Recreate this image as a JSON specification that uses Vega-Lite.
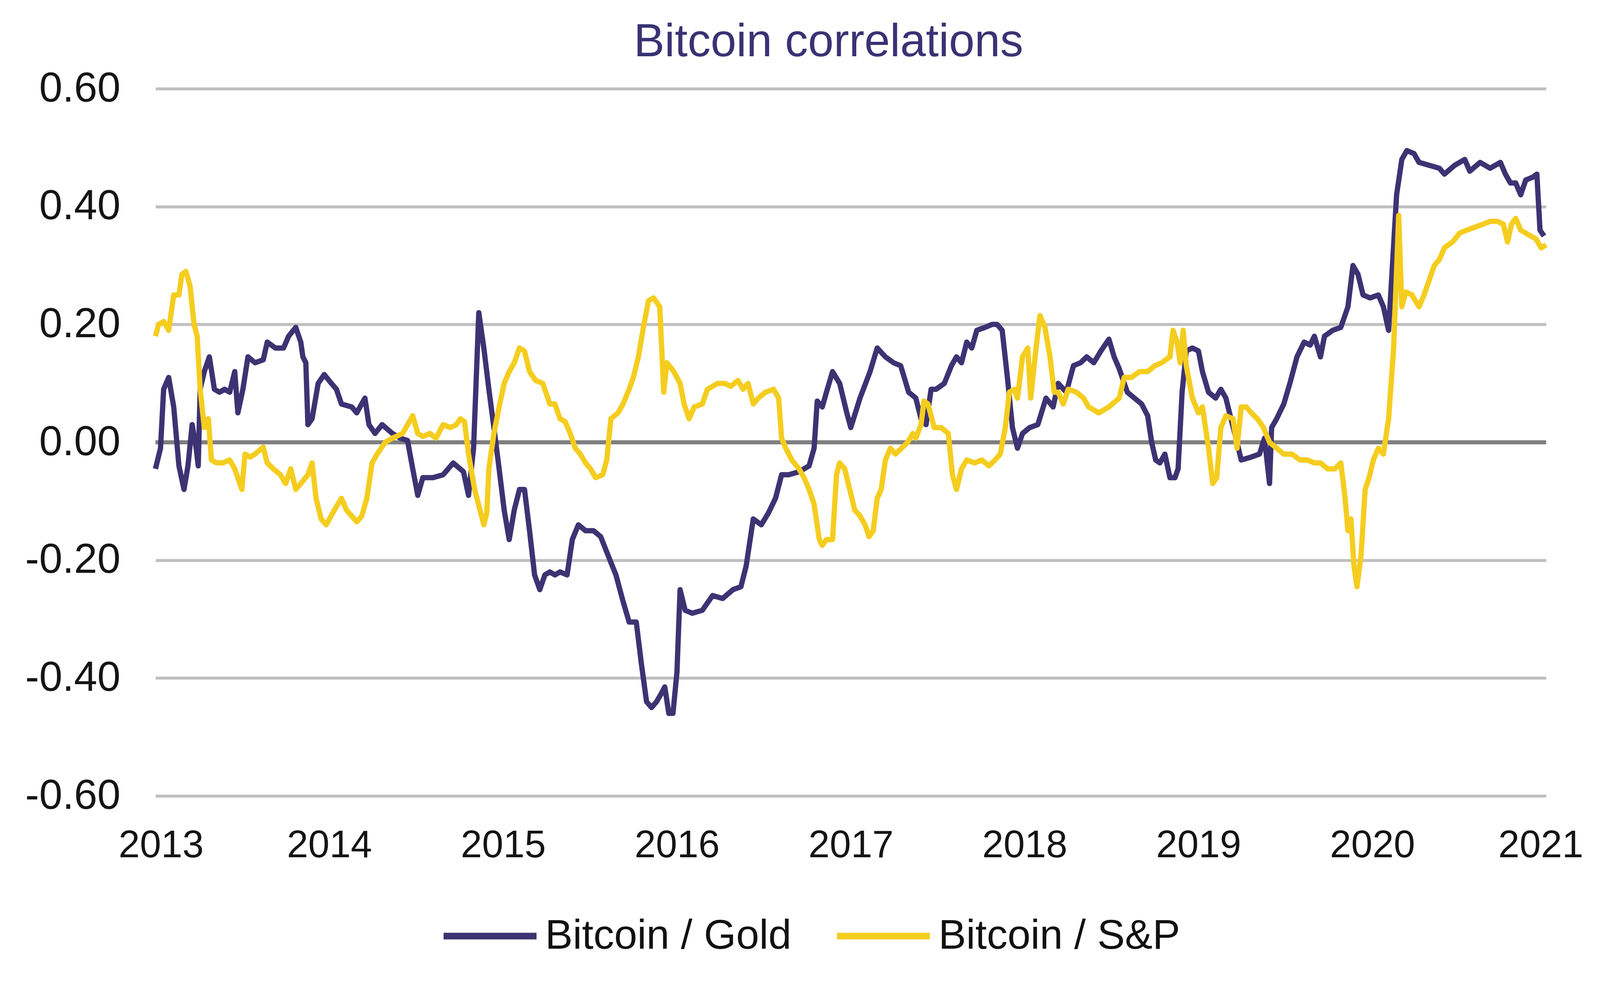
{
  "$schema": "https://vega.github.io/schema/vega-lite/v6.json",
  "autosize": {"type": "none"},
  "width": 3560,
  "height": 1810,
  "padding": {"left": 398, "top": 227, "right": 266, "bottom": 530},
  "background": "white",
  "title": {
    "text": "Bitcoin correlations",
    "font": "Liberation Sans",
    "fontSize": 118,
    "fontWeight": "normal",
    "color": "#3a3274",
    "anchor": "middle",
    "frame": "group",
    "baseline": "alphabetic",
    "dx": -57,
    "offset": -89
  },
  "config": {
    "view": {"stroke": null},
    "axis": {
      "labelFont": "Liberation Sans",
      "labelColor": "#141414",
      "labelLimit": 0,
      "domain": false,
      "ticks": false
    },
    "axisX": {"grid": false, "labelFontSize": 98, "labelPadding": 79, "labelFlush": true, "labelFlushOffset": 95, "labelOverlap": false},
    "axisY": {"grid": true, "gridColor": "#bfbfbf", "gridWidth": 7.7, "labelFontSize": 107, "labelPadding": 90}
  },
  "datasets": {
    "gold": [
      {"year": 2013.000, "corr": -0.045}, {"year": 2013.029, "corr": -0.01}, {"year": 2013.047, "corr": 0.09},
      {"year": 2013.076, "corr": 0.11}, {"year": 2013.105, "corr": 0.06}, {"year": 2013.135, "corr": -0.04},
      {"year": 2013.164, "corr": -0.08}, {"year": 2013.187, "corr": -0.04}, {"year": 2013.211, "corr": 0.03},
      {"year": 2013.234, "corr": -0.01}, {"year": 2013.246, "corr": -0.04}, {"year": 2013.257, "corr": 0.09},
      {"year": 2013.281, "corr": 0.12}, {"year": 2013.310, "corr": 0.145}, {"year": 2013.339, "corr": 0.09},
      {"year": 2013.368, "corr": 0.085}, {"year": 2013.398, "corr": 0.09}, {"year": 2013.427, "corr": 0.085},
      {"year": 2013.456, "corr": 0.12}, {"year": 2013.474, "corr": 0.05}, {"year": 2013.503, "corr": 0.09},
      {"year": 2013.532, "corr": 0.145}, {"year": 2013.573, "corr": 0.135}, {"year": 2013.620, "corr": 0.14},
      {"year": 2013.643, "corr": 0.17}, {"year": 2013.690, "corr": 0.16}, {"year": 2013.737, "corr": 0.16},
      {"year": 2013.766, "corr": 0.18}, {"year": 2013.807, "corr": 0.195}, {"year": 2013.836, "corr": 0.17},
      {"year": 2013.848, "corr": 0.145}, {"year": 2013.865, "corr": 0.135}, {"year": 2013.877, "corr": 0.03},
      {"year": 2013.901, "corr": 0.04}, {"year": 2013.936, "corr": 0.10}, {"year": 2013.971, "corr": 0.115},
      {"year": 2014.012, "corr": 0.10}, {"year": 2014.041, "corr": 0.09}, {"year": 2014.070, "corr": 0.065},
      {"year": 2014.129, "corr": 0.06}, {"year": 2014.158, "corr": 0.05}, {"year": 2014.205, "corr": 0.075},
      {"year": 2014.228, "corr": 0.03}, {"year": 2014.263, "corr": 0.015}, {"year": 2014.304, "corr": 0.03},
      {"year": 2014.363, "corr": 0.015}, {"year": 2014.409, "corr": 0.007}, {"year": 2014.450, "corr": 0.003},
      {"year": 2014.480, "corr": -0.045}, {"year": 2014.509, "corr": -0.09}, {"year": 2014.538, "corr": -0.06},
      {"year": 2014.596, "corr": -0.06}, {"year": 2014.655, "corr": -0.055}, {"year": 2014.713, "corr": -0.035},
      {"year": 2014.772, "corr": -0.05}, {"year": 2014.801, "corr": -0.09}, {"year": 2014.830, "corr": -0.01},
      {"year": 2014.860, "corr": 0.22}, {"year": 2014.889, "corr": 0.16}, {"year": 2014.918, "corr": 0.09},
      {"year": 2014.947, "corr": 0.025}, {"year": 2014.977, "corr": -0.045}, {"year": 2015.006, "corr": -0.115},
      {"year": 2015.035, "corr": -0.165}, {"year": 2015.064, "corr": -0.115}, {"year": 2015.094, "corr": -0.08},
      {"year": 2015.123, "corr": -0.08}, {"year": 2015.152, "corr": -0.15}, {"year": 2015.181, "corr": -0.225},
      {"year": 2015.211, "corr": -0.25}, {"year": 2015.240, "corr": -0.225}, {"year": 2015.269, "corr": -0.22},
      {"year": 2015.298, "corr": -0.225}, {"year": 2015.327, "corr": -0.22}, {"year": 2015.368, "corr": -0.225},
      {"year": 2015.398, "corr": -0.165}, {"year": 2015.433, "corr": -0.14}, {"year": 2015.474, "corr": -0.15},
      {"year": 2015.520, "corr": -0.15}, {"year": 2015.561, "corr": -0.16}, {"year": 2015.608, "corr": -0.195},
      {"year": 2015.649, "corr": -0.225}, {"year": 2015.690, "corr": -0.27}, {"year": 2015.725, "corr": -0.305},
      {"year": 2015.766, "corr": -0.305}, {"year": 2015.795, "corr": -0.375}, {"year": 2015.825, "corr": -0.44},
      {"year": 2015.854, "corr": -0.45}, {"year": 2015.883, "corr": -0.44}, {"year": 2015.912, "corr": -0.425},
      {"year": 2015.930, "corr": -0.415}, {"year": 2015.953, "corr": -0.46}, {"year": 2015.977, "corr": -0.46},
      {"year": 2016.000, "corr": -0.39}, {"year": 2016.018, "corr": -0.25}, {"year": 2016.047, "corr": -0.285},
      {"year": 2016.088, "corr": -0.29}, {"year": 2016.146, "corr": -0.285}, {"year": 2016.205, "corr": -0.26},
      {"year": 2016.263, "corr": -0.265}, {"year": 2016.322, "corr": -0.25}, {"year": 2016.368, "corr": -0.245},
      {"year": 2016.398, "corr": -0.21}, {"year": 2016.439, "corr": -0.13}, {"year": 2016.485, "corr": -0.14},
      {"year": 2016.526, "corr": -0.12}, {"year": 2016.567, "corr": -0.095}, {"year": 2016.602, "corr": -0.055},
      {"year": 2016.643, "corr": -0.055}, {"year": 2016.702, "corr": -0.05}, {"year": 2016.760, "corr": -0.04},
      {"year": 2016.789, "corr": -0.01}, {"year": 2016.807, "corr": 0.07}, {"year": 2016.836, "corr": 0.06},
      {"year": 2016.860, "corr": 0.085}, {"year": 2016.895, "corr": 0.12}, {"year": 2016.936, "corr": 0.10},
      {"year": 2016.977, "corr": 0.05}, {"year": 2017.000, "corr": 0.025}, {"year": 2017.053, "corr": 0.075},
      {"year": 2017.111, "corr": 0.12}, {"year": 2017.152, "corr": 0.16}, {"year": 2017.199, "corr": 0.145},
      {"year": 2017.246, "corr": 0.135}, {"year": 2017.287, "corr": 0.13}, {"year": 2017.333, "corr": 0.085},
      {"year": 2017.374, "corr": 0.075}, {"year": 2017.404, "corr": 0.04}, {"year": 2017.433, "corr": 0.03},
      {"year": 2017.462, "corr": 0.09}, {"year": 2017.491, "corr": 0.09}, {"year": 2017.538, "corr": 0.10},
      {"year": 2017.579, "corr": 0.13}, {"year": 2017.608, "corr": 0.145}, {"year": 2017.637, "corr": 0.135},
      {"year": 2017.667, "corr": 0.17}, {"year": 2017.696, "corr": 0.16}, {"year": 2017.725, "corr": 0.19},
      {"year": 2017.772, "corr": 0.195}, {"year": 2017.813, "corr": 0.20}, {"year": 2017.842, "corr": 0.20},
      {"year": 2017.871, "corr": 0.19}, {"year": 2017.901, "corr": 0.11}, {"year": 2017.930, "corr": 0.025},
      {"year": 2017.959, "corr": -0.01}, {"year": 2017.988, "corr": 0.015}, {"year": 2018.029, "corr": 0.025},
      {"year": 2018.076, "corr": 0.03}, {"year": 2018.123, "corr": 0.075}, {"year": 2018.164, "corr": 0.06},
      {"year": 2018.193, "corr": 0.10}, {"year": 2018.240, "corr": 0.085}, {"year": 2018.281, "corr": 0.13},
      {"year": 2018.322, "corr": 0.135}, {"year": 2018.357, "corr": 0.145}, {"year": 2018.398, "corr": 0.135},
      {"year": 2018.439, "corr": 0.155}, {"year": 2018.485, "corr": 0.175}, {"year": 2018.515, "corr": 0.145},
      {"year": 2018.544, "corr": 0.125}, {"year": 2018.591, "corr": 0.085}, {"year": 2018.632, "corr": 0.075},
      {"year": 2018.673, "corr": 0.065}, {"year": 2018.708, "corr": 0.045}, {"year": 2018.731, "corr": 0.0},
      {"year": 2018.754, "corr": -0.03}, {"year": 2018.778, "corr": -0.035}, {"year": 2018.807, "corr": -0.02},
      {"year": 2018.836, "corr": -0.06}, {"year": 2018.865, "corr": -0.06}, {"year": 2018.883, "corr": -0.045},
      {"year": 2018.906, "corr": 0.085}, {"year": 2018.930, "corr": 0.155}, {"year": 2018.965, "corr": 0.16},
      {"year": 2019.000, "corr": 0.155}, {"year": 2019.023, "corr": 0.12}, {"year": 2019.058, "corr": 0.085},
      {"year": 2019.099, "corr": 0.075}, {"year": 2019.129, "corr": 0.09}, {"year": 2019.158, "corr": 0.075},
      {"year": 2019.187, "corr": 0.04}, {"year": 2019.216, "corr": 0.007}, {"year": 2019.246, "corr": -0.03},
      {"year": 2019.304, "corr": -0.025}, {"year": 2019.351, "corr": -0.02}, {"year": 2019.380, "corr": 0.007},
      {"year": 2019.409, "corr": -0.07}, {"year": 2019.421, "corr": 0.025}, {"year": 2019.450, "corr": 0.04},
      {"year": 2019.491, "corr": 0.065}, {"year": 2019.526, "corr": 0.10}, {"year": 2019.567, "corr": 0.145},
      {"year": 2019.608, "corr": 0.17}, {"year": 2019.643, "corr": 0.165}, {"year": 2019.667, "corr": 0.18},
      {"year": 2019.702, "corr": 0.145}, {"year": 2019.725, "corr": 0.18}, {"year": 2019.772, "corr": 0.19},
      {"year": 2019.819, "corr": 0.195}, {"year": 2019.860, "corr": 0.23}, {"year": 2019.889, "corr": 0.30},
      {"year": 2019.918, "corr": 0.285}, {"year": 2019.947, "corr": 0.25}, {"year": 2019.988, "corr": 0.245},
      {"year": 2020.035, "corr": 0.25}, {"year": 2020.064, "corr": 0.23}, {"year": 2020.094, "corr": 0.19},
      {"year": 2020.140, "corr": 0.42}, {"year": 2020.170, "corr": 0.48}, {"year": 2020.199, "corr": 0.495},
      {"year": 2020.240, "corr": 0.49}, {"year": 2020.269, "corr": 0.475}, {"year": 2020.327, "corr": 0.47},
      {"year": 2020.386, "corr": 0.465}, {"year": 2020.415, "corr": 0.455}, {"year": 2020.474, "corr": 0.47},
      {"year": 2020.532, "corr": 0.48}, {"year": 2020.561, "corr": 0.46}, {"year": 2020.620, "corr": 0.475},
      {"year": 2020.678, "corr": 0.465}, {"year": 2020.737, "corr": 0.475}, {"year": 2020.766, "corr": 0.455},
      {"year": 2020.795, "corr": 0.44}, {"year": 2020.825, "corr": 0.44}, {"year": 2020.854, "corr": 0.42},
      {"year": 2020.883, "corr": 0.445}, {"year": 2020.924, "corr": 0.45}, {"year": 2020.947, "corr": 0.455},
      {"year": 2020.965, "corr": 0.36}, {"year": 2020.988, "corr": 0.35}
    ],
    "sp": [
      {"year": 2013.000, "corr": 0.18}, {"year": 2013.018, "corr": 0.20}, {"year": 2013.047, "corr": 0.205},
      {"year": 2013.076, "corr": 0.19}, {"year": 2013.105, "corr": 0.25}, {"year": 2013.135, "corr": 0.25},
      {"year": 2013.152, "corr": 0.285}, {"year": 2013.175, "corr": 0.29}, {"year": 2013.199, "corr": 0.265},
      {"year": 2013.222, "corr": 0.20}, {"year": 2013.240, "corr": 0.18}, {"year": 2013.257, "corr": 0.09},
      {"year": 2013.281, "corr": 0.025}, {"year": 2013.304, "corr": 0.04}, {"year": 2013.322, "corr": -0.03},
      {"year": 2013.351, "corr": -0.035}, {"year": 2013.386, "corr": -0.035}, {"year": 2013.427, "corr": -0.03},
      {"year": 2013.456, "corr": -0.045}, {"year": 2013.497, "corr": -0.08}, {"year": 2013.515, "corr": -0.02},
      {"year": 2013.544, "corr": -0.025}, {"year": 2013.573, "corr": -0.02}, {"year": 2013.620, "corr": -0.008},
      {"year": 2013.643, "corr": -0.035}, {"year": 2013.678, "corr": -0.045}, {"year": 2013.719, "corr": -0.055},
      {"year": 2013.749, "corr": -0.07}, {"year": 2013.778, "corr": -0.045}, {"year": 2013.807, "corr": -0.08},
      {"year": 2013.836, "corr": -0.07}, {"year": 2013.877, "corr": -0.055}, {"year": 2013.901, "corr": -0.035},
      {"year": 2013.924, "corr": -0.095}, {"year": 2013.953, "corr": -0.13}, {"year": 2013.982, "corr": -0.14},
      {"year": 2014.029, "corr": -0.115}, {"year": 2014.070, "corr": -0.095}, {"year": 2014.099, "corr": -0.115},
      {"year": 2014.129, "corr": -0.125}, {"year": 2014.158, "corr": -0.135}, {"year": 2014.187, "corr": -0.125},
      {"year": 2014.216, "corr": -0.095}, {"year": 2014.246, "corr": -0.035}, {"year": 2014.275, "corr": -0.02},
      {"year": 2014.322, "corr": 0.0}, {"year": 2014.363, "corr": 0.007}, {"year": 2014.421, "corr": 0.015},
      {"year": 2014.480, "corr": 0.045}, {"year": 2014.509, "corr": 0.015}, {"year": 2014.538, "corr": 0.01},
      {"year": 2014.579, "corr": 0.015}, {"year": 2014.614, "corr": 0.007}, {"year": 2014.655, "corr": 0.03},
      {"year": 2014.696, "corr": 0.025}, {"year": 2014.731, "corr": 0.03}, {"year": 2014.754, "corr": 0.04},
      {"year": 2014.778, "corr": 0.035}, {"year": 2014.801, "corr": -0.02}, {"year": 2014.836, "corr": -0.08},
      {"year": 2014.889, "corr": -0.14}, {"year": 2014.906, "corr": -0.12}, {"year": 2014.918, "corr": -0.045},
      {"year": 2014.947, "corr": 0.015}, {"year": 2014.977, "corr": 0.06}, {"year": 2015.006, "corr": 0.10},
      {"year": 2015.035, "corr": 0.12}, {"year": 2015.064, "corr": 0.135}, {"year": 2015.094, "corr": 0.16},
      {"year": 2015.123, "corr": 0.155}, {"year": 2015.152, "corr": 0.12}, {"year": 2015.187, "corr": 0.105},
      {"year": 2015.228, "corr": 0.10}, {"year": 2015.269, "corr": 0.065}, {"year": 2015.298, "corr": 0.065},
      {"year": 2015.327, "corr": 0.04}, {"year": 2015.357, "corr": 0.035}, {"year": 2015.386, "corr": 0.015},
      {"year": 2015.415, "corr": -0.01}, {"year": 2015.444, "corr": -0.02}, {"year": 2015.474, "corr": -0.035},
      {"year": 2015.503, "corr": -0.045}, {"year": 2015.532, "corr": -0.06}, {"year": 2015.573, "corr": -0.055},
      {"year": 2015.596, "corr": -0.03}, {"year": 2015.620, "corr": 0.04}, {"year": 2015.661, "corr": 0.05},
      {"year": 2015.690, "corr": 0.065}, {"year": 2015.725, "corr": 0.09}, {"year": 2015.749, "corr": 0.11},
      {"year": 2015.778, "corr": 0.145}, {"year": 2015.807, "corr": 0.195}, {"year": 2015.836, "corr": 0.24},
      {"year": 2015.865, "corr": 0.245}, {"year": 2015.901, "corr": 0.23}, {"year": 2015.924, "corr": 0.085},
      {"year": 2015.942, "corr": 0.135}, {"year": 2015.982, "corr": 0.12}, {"year": 2016.018, "corr": 0.10},
      {"year": 2016.041, "corr": 0.065}, {"year": 2016.070, "corr": 0.04}, {"year": 2016.099, "corr": 0.06},
      {"year": 2016.146, "corr": 0.065}, {"year": 2016.175, "corr": 0.09}, {"year": 2016.205, "corr": 0.095},
      {"year": 2016.234, "corr": 0.10}, {"year": 2016.275, "corr": 0.10}, {"year": 2016.310, "corr": 0.095},
      {"year": 2016.351, "corr": 0.105}, {"year": 2016.380, "corr": 0.09}, {"year": 2016.409, "corr": 0.10},
      {"year": 2016.439, "corr": 0.065}, {"year": 2016.468, "corr": 0.075}, {"year": 2016.509, "corr": 0.085},
      {"year": 2016.556, "corr": 0.09}, {"year": 2016.585, "corr": 0.075}, {"year": 2016.602, "corr": 0.007},
      {"year": 2016.626, "corr": -0.01}, {"year": 2016.661, "corr": -0.03}, {"year": 2016.702, "corr": -0.045},
      {"year": 2016.731, "corr": -0.06}, {"year": 2016.760, "corr": -0.08}, {"year": 2016.789, "corr": -0.105},
      {"year": 2016.819, "corr": -0.165}, {"year": 2016.836, "corr": -0.175}, {"year": 2016.860, "corr": -0.165},
      {"year": 2016.895, "corr": -0.165}, {"year": 2016.918, "corr": -0.055}, {"year": 2016.936, "corr": -0.035},
      {"year": 2016.965, "corr": -0.045}, {"year": 2016.994, "corr": -0.08}, {"year": 2017.023, "corr": -0.115},
      {"year": 2017.053, "corr": -0.125}, {"year": 2017.082, "corr": -0.14}, {"year": 2017.105, "corr": -0.16},
      {"year": 2017.129, "corr": -0.15}, {"year": 2017.152, "corr": -0.095}, {"year": 2017.175, "corr": -0.08},
      {"year": 2017.199, "corr": -0.03}, {"year": 2017.228, "corr": -0.01}, {"year": 2017.257, "corr": -0.02},
      {"year": 2017.292, "corr": -0.01}, {"year": 2017.327, "corr": 0.0}, {"year": 2017.357, "corr": 0.015},
      {"year": 2017.374, "corr": 0.007}, {"year": 2017.404, "corr": 0.03}, {"year": 2017.421, "corr": 0.07},
      {"year": 2017.444, "corr": 0.065}, {"year": 2017.480, "corr": 0.025}, {"year": 2017.520, "corr": 0.025},
      {"year": 2017.561, "corr": 0.015}, {"year": 2017.585, "corr": -0.055}, {"year": 2017.608, "corr": -0.08},
      {"year": 2017.637, "corr": -0.045}, {"year": 2017.667, "corr": -0.03}, {"year": 2017.713, "corr": -0.035},
      {"year": 2017.754, "corr": -0.03}, {"year": 2017.795, "corr": -0.04}, {"year": 2017.830, "corr": -0.03},
      {"year": 2017.860, "corr": -0.02}, {"year": 2017.889, "corr": 0.025}, {"year": 2017.912, "corr": 0.085},
      {"year": 2017.942, "corr": 0.09}, {"year": 2017.959, "corr": 0.075}, {"year": 2017.988, "corr": 0.145},
      {"year": 2018.018, "corr": 0.16}, {"year": 2018.035, "corr": 0.075}, {"year": 2018.064, "corr": 0.155},
      {"year": 2018.088, "corr": 0.215}, {"year": 2018.117, "corr": 0.195}, {"year": 2018.146, "corr": 0.145},
      {"year": 2018.170, "corr": 0.085}, {"year": 2018.193, "corr": 0.085}, {"year": 2018.222, "corr": 0.065},
      {"year": 2018.251, "corr": 0.09}, {"year": 2018.298, "corr": 0.085}, {"year": 2018.339, "corr": 0.075},
      {"year": 2018.368, "corr": 0.06}, {"year": 2018.427, "corr": 0.05}, {"year": 2018.485, "corr": 0.06},
      {"year": 2018.544, "corr": 0.075}, {"year": 2018.573, "corr": 0.11}, {"year": 2018.614, "corr": 0.11},
      {"year": 2018.661, "corr": 0.12}, {"year": 2018.708, "corr": 0.12}, {"year": 2018.749, "corr": 0.13},
      {"year": 2018.789, "corr": 0.135}, {"year": 2018.836, "corr": 0.145}, {"year": 2018.854, "corr": 0.19},
      {"year": 2018.877, "corr": 0.17}, {"year": 2018.895, "corr": 0.135}, {"year": 2018.912, "corr": 0.19},
      {"year": 2018.930, "corr": 0.13}, {"year": 2018.965, "corr": 0.075}, {"year": 2019.000, "corr": 0.05},
      {"year": 2019.023, "corr": 0.06}, {"year": 2019.058, "corr": -0.01}, {"year": 2019.082, "corr": -0.07},
      {"year": 2019.105, "corr": -0.06}, {"year": 2019.129, "corr": 0.025}, {"year": 2019.158, "corr": 0.045},
      {"year": 2019.199, "corr": 0.04}, {"year": 2019.222, "corr": -0.01}, {"year": 2019.246, "corr": 0.06},
      {"year": 2019.275, "corr": 0.06}, {"year": 2019.304, "corr": 0.05}, {"year": 2019.339, "corr": 0.04},
      {"year": 2019.374, "corr": 0.025}, {"year": 2019.409, "corr": 0.0}, {"year": 2019.450, "corr": -0.01},
      {"year": 2019.491, "corr": -0.02}, {"year": 2019.538, "corr": -0.02}, {"year": 2019.585, "corr": -0.03},
      {"year": 2019.626, "corr": -0.03}, {"year": 2019.667, "corr": -0.035}, {"year": 2019.702, "corr": -0.035},
      {"year": 2019.743, "corr": -0.045}, {"year": 2019.784, "corr": -0.045}, {"year": 2019.819, "corr": -0.035},
      {"year": 2019.842, "corr": -0.09}, {"year": 2019.860, "corr": -0.15}, {"year": 2019.877, "corr": -0.13},
      {"year": 2019.895, "corr": -0.21}, {"year": 2019.912, "corr": -0.245}, {"year": 2019.936, "corr": -0.19},
      {"year": 2019.959, "corr": -0.08}, {"year": 2019.982, "corr": -0.06}, {"year": 2020.006, "corr": -0.03},
      {"year": 2020.035, "corr": -0.01}, {"year": 2020.064, "corr": -0.02}, {"year": 2020.094, "corr": 0.04},
      {"year": 2020.123, "corr": 0.16}, {"year": 2020.152, "corr": 0.385}, {"year": 2020.170, "corr": 0.23},
      {"year": 2020.193, "corr": 0.255}, {"year": 2020.228, "corr": 0.25}, {"year": 2020.269, "corr": 0.23},
      {"year": 2020.298, "corr": 0.25}, {"year": 2020.327, "corr": 0.275}, {"year": 2020.357, "corr": 0.30},
      {"year": 2020.386, "corr": 0.31}, {"year": 2020.415, "corr": 0.33}, {"year": 2020.462, "corr": 0.34},
      {"year": 2020.503, "corr": 0.355}, {"year": 2020.544, "corr": 0.36}, {"year": 2020.591, "corr": 0.365},
      {"year": 2020.637, "corr": 0.37}, {"year": 2020.678, "corr": 0.375}, {"year": 2020.719, "corr": 0.375},
      {"year": 2020.754, "corr": 0.37}, {"year": 2020.778, "corr": 0.34}, {"year": 2020.801, "corr": 0.37},
      {"year": 2020.825, "corr": 0.38}, {"year": 2020.854, "corr": 0.36}, {"year": 2020.883, "corr": 0.355},
      {"year": 2020.912, "corr": 0.35}, {"year": 2020.942, "corr": 0.345}, {"year": 2020.971, "corr": 0.33},
      {"year": 2021.000, "corr": 0.335}
    ]
  },
  "layer": [
    {
      "data": {"values": [{"corr": 0}]},
      "mark": {"type": "rule", "color": "#7f7f7f", "strokeWidth": 10.6},
      "encoding": {
        "y": {"field": "corr", "type": "quantitative"}
      }
    },
    {
      "data": {"name": "gold"},
      "mark": {"type": "line", "strokeWidth": 13.5, "strokeJoin": "round"},
      "encoding": {
        "x": {
          "field": "year",
          "type": "quantitative",
          "title": null,
          "scale": {"domain": [2013, 2021], "nice": false, "zero": false},
          "axis": {
            "values": [2013, 2014, 2015, 2016, 2017, 2018, 2019, 2020, 2021],
            "format": "d"
          }
        },
        "y": {
          "field": "corr",
          "type": "quantitative",
          "title": null,
          "scale": {"domain": [-0.6, 0.6], "nice": false},
          "axis": {
            "values": [-0.6, -0.4, -0.2, 0, 0.2, 0.4, 0.6],
            "labelExpr": "replace(format(datum.value, '.2f'), '\u2212', '-')"
          }
        },
        "color": {
          "datum": "Bitcoin / Gold",
          "type": "nominal",
          "scale": {
            "domain": ["Bitcoin / Gold", "Bitcoin / S&P"],
            "range": ["#3d3373", "#f5cd1f"]
          },
          "legend": {
            "orient": "none",
            "legendX": 729,
            "legendY": 2041,
            "direction": "horizontal",
            "title": null,
            "symbolType": "stroke",
            "symbolSize": 56644,
            "symbolStrokeWidth": 17,
            "labelFont": "Liberation Sans",
            "labelFontSize": 106,
            "labelColor": "#111111",
            "labelLimit": 0,
            "labelOffset": 13.5,
            "columnPadding": 82
          }
        }
      }
    },
    {
      "data": {"name": "sp"},
      "mark": {"type": "line", "strokeWidth": 13.5, "strokeJoin": "round"},
      "encoding": {
        "x": {"field": "year", "type": "quantitative"},
        "y": {"field": "corr", "type": "quantitative"},
        "color": {"datum": "Bitcoin / S&P", "type": "nominal"}
      }
    }
  ]
}
